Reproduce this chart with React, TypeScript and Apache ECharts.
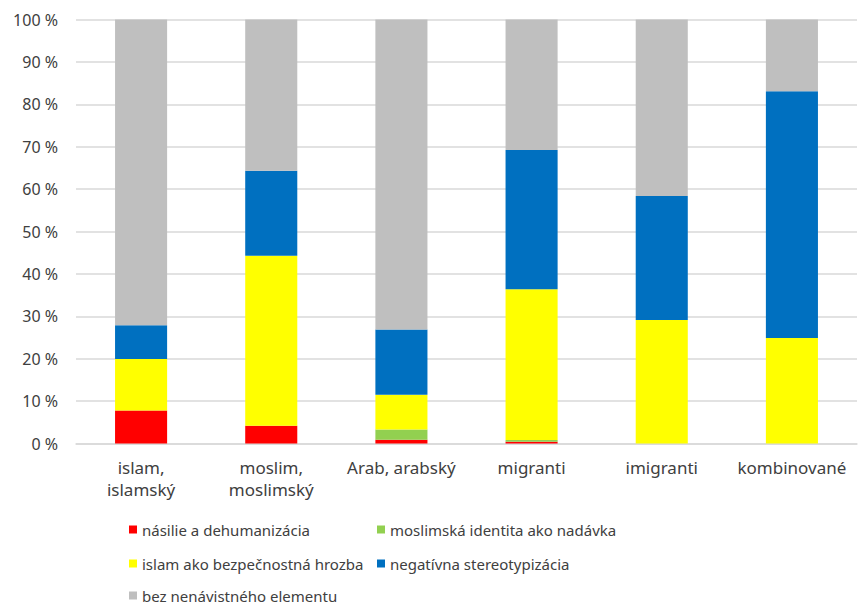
import React, { useEffect, useRef } from "react";
import * as echarts from "echarts";

const categories = ["islam,\nislamský", "moslim,\nmoslimský", "Arab, arabský", "migranti", "imigranti", "kombinované"];
const seriesNames = [
  "násilie a dehumanizácia",
  "moslimská identita ako nadávka",
  "islam ako bezpečnostná hrozba",
  "negatívna stereotypizácia",
  "bez nenávistného elementu",
];
const violence = [7.8, 4.2, 0.9, 0.4, 0, 0];
const identity = [0, 0, 2.4, 0.4, 0, 0];
const threat = [12.1, 40.1, 8.2, 35.6, 29.1, 24.9];
const stereotype = [8.0, 20.0, 15.4, 32.8, 29.3, 58.2];
const noHate = [72.1, 35.7, 73.1, 30.8, 41.6, 16.9];
const colors = ["#ff0000", "#92d050", "#ffff00", "#0070c0", "#bfbfbf"];

const FONT = "Noto Sans";
const legendPos: [number, number][] = [
  [124, 517],
  [372, 517],
  [124, 551],
  [372, 551],
  [124, 583],
];

export default function App() {
  const ref = useRef<HTMLDivElement>(null);
  useEffect(() => {
    const chart = echarts.init(ref.current!, null, { renderer: "svg" });
    const values = [violence, identity, threat, stereotype, noHate];
    const legendText = { color: "#404040", fontSize: 15, fontFamily: FONT };
    chart.setOption({
      animation: false,
      textStyle: { fontFamily: FONT },
      grid: { left: 76, right: 1, top: 19.5, bottom: 160.5, containLabel: false },
      legend: seriesNames.map((name, i) => ({
        orient: "horizontal",
        left: legendPos[i][0],
        top: legendPos[i][1],
        itemWidth: 8,
        itemHeight: 8,
        itemGap: 10,
        icon: "rect",
        textStyle: legendText,
        data: [name],
      })),
      xAxis: {
        type: "category",
        data: categories,
        axisLine: { lineStyle: { color: "#d9d9d9", width: 1.5 } },
        axisTick: { show: false },
        axisLabel: { color: "#404040", fontSize: 17, fontFamily: FONT, margin: 13, lineHeight: 22, interval: 0 },
      },
      yAxis: {
        type: "value",
        min: 0,
        max: 100,
        interval: 10,
        axisLine: { show: false },
        axisTick: { show: false },
        splitLine: { lineStyle: { color: "#d9d9d9", width: 1.5 } },
        axisLabel: { formatter: "{value} %", color: "#404040", fontSize: 16, fontFamily: FONT, margin: 18 },
      },
      series: seriesNames.map((name, i) => ({
        name,
        type: "bar",
        stack: "total",
        barCategoryGap: "60%",
        data: values[i],
        itemStyle: { color: colors[i] },
      })),
    });
    return () => chart.dispose();
  }, []);
  return <div ref={ref} style={{ position: "absolute", left: 0, top: 0, width: 858, height: 604 }} />;
}
